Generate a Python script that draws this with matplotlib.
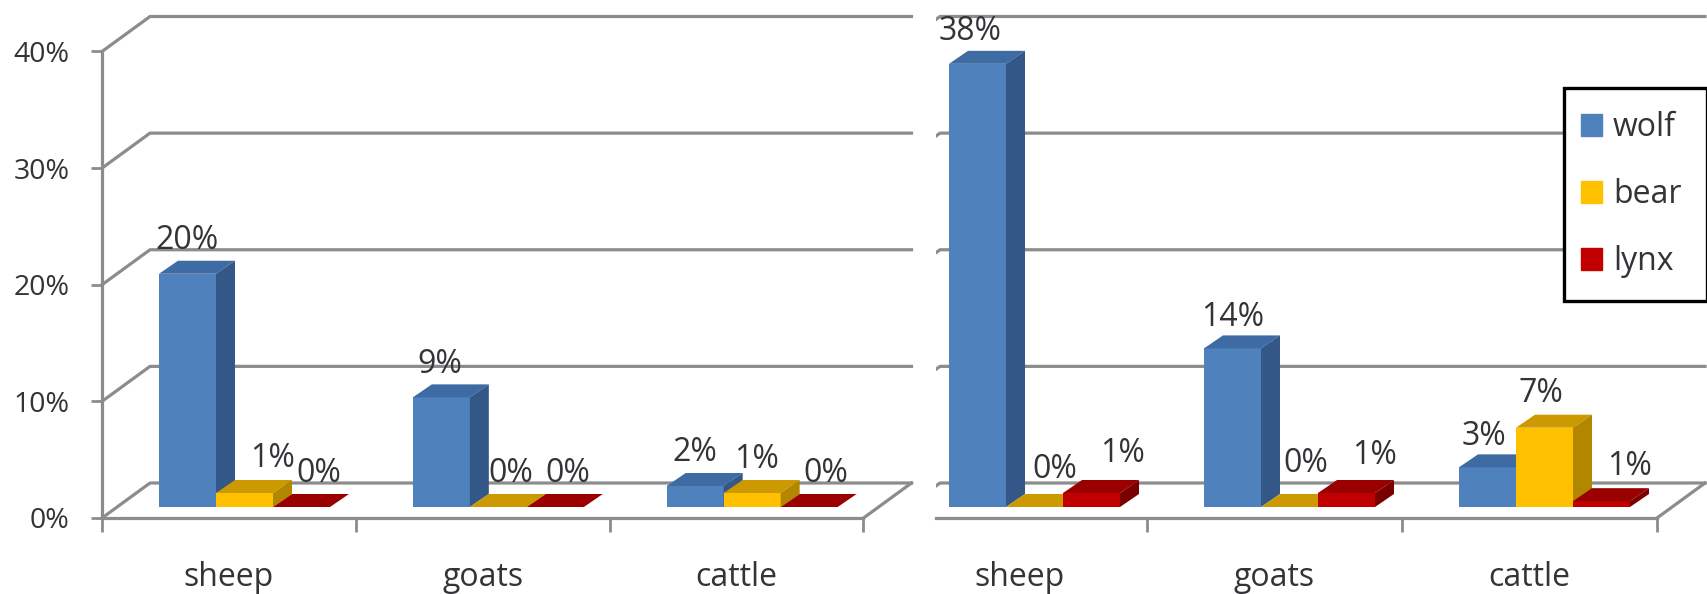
import numpy as np
import matplotlib
matplotlib.use('Agg')
import matplotlib.pyplot as plt
from matplotlib.patches import Patch, Rectangle

plt.rcParams['font.family'] = ['Open Sans', 'DejaVu Sans']

categories = ['sheep', 'goats', 'cattle']
series = ['wolf', 'bear', 'lynx']
y_ticks = [0, 10, 20, 30, 40]

left_wolf = [20, 9.4, 1.8]
left_bear = [1.2, 0, 1.2]
left_lynx = [0, 0, 0]
left_wolf_labels = ['20%', '9%', '2%']
left_bear_labels = ['1%', '0%', '1%']
left_lynx_labels = ['0%', '0%', '0%']

right_wolf = [38, 13.6, 3.4]
right_bear = [0, 0, 6.8]
right_lynx = [1.2, 1.2, 0.5]
right_wolf_labels = ['38%', '14%', '3%']
right_bear_labels = ['0%', '0%', '7%']
right_lynx_labels = ['1%', '1%', '1%']

# label shift from bar centre / bar top, in pixels
left_shift = [[(0, 33), (-2, 33), (0, 34)],
              [(28, 35), (12, 33), (4, 34)],
              [(17, 34), (12, 33), (17, 34)]]
right_shift = [[(-7, 32), (0, 31), (-4, 31)],
               [(20, 38), (16, 43), (-4, 34)],
               [(31, 40), (28, 38), (28, 35)]]

front = ['#4F81BD', '#FFC000', '#C00000']
top = ['#3E6BA3', '#CC9A00', '#9A0000']
side = ['#335887', '#B38600', '#7A0000']
grey = '#8C8C8C'
text_col = '#333338'

W, H = 1708, 594
fig = plt.figure(figsize=(W / 100, H / 100), dpi=100)
fig.patch.set_facecolor('white')


def panel(x0, x1, values, labels, shifts, cut=None):
    ax = fig.add_axes([x0 / W, 1 - 518 / H, (x1 - x0) / W, (518 - 51.5) / H])
    ax.patch.set_visible(False)
    ax.set_xlim(0, 3)
    ax.set_ylim(0, 40)
    px = (x1 - x0) / 3        # pixels per category
    py = 466.5 / 40           # pixels per percent
    depth_x, depth_y = 48 / px, 35 / py

    # floor and back wall lines
    for v in y_ticks:
        l, = ax.plot([0, depth_x, 3 + depth_x], [v, v + depth_y, v + depth_y],
                     color=grey, lw=2.3, clip_on=False, zorder=1)
        if cut is not None:
            l.set_clip_on(True)
            l.set_clip_path(Rectangle((cut / px, -10), 5, 60, transform=ax.transData))
    ax.plot([3, 3 + depth_x], [0, depth_y], color=grey, lw=2.3, clip_on=False, zorder=1)

    # bars, front face through ax.bar and the fake 3d faces on top
    w = 57 / px
    bar_dx, bar_dy = 19 / px, 13 / py
    base = 11 / py
    start = np.arange(3) + 57 / px
    for i in range(3):
        xs = start + i * w
        ax.bar(xs, values[i], w, bottom=base, align='edge', color=front[i],
               clip_on=False, zorder=3 + i)
        for j, x in enumerate(xs):
            y = base + values[i][j]
            ax.fill([x, x + w, x + w + bar_dx, x + bar_dx], [y, y, y + bar_dy, y + bar_dy],
                    color=top[i], lw=0, clip_on=False, zorder=3 + i)
            ax.fill([x + w, x + w, x + w + bar_dx, x + w + bar_dx],
                    [base, y, y + bar_dy, base + bar_dy],
                    color=side[i], lw=0, clip_on=False, zorder=3 + i)
            ax.annotate(labels[i][j], (x + w / 2, y), xycoords='data',
                        xytext=shifts[i][j], textcoords='offset pixels',
                        ha='center', va='center', fontsize=23, color=text_col, zorder=10)

    for s in ['top', 'right']:
        ax.spines[s].set_visible(False)
    ax.spines['bottom'].set_color(grey)
    ax.spines['bottom'].set_linewidth(2.3)
    ax.spines['left'].set_color(grey)
    ax.spines['left'].set_linewidth(2.3)

    ax.set_xticks(np.arange(3) + 0.5)
    ax.set_xticklabels(categories, fontsize=23, color=text_col)
    ax.set_xticks(np.arange(4), minor=True)
    ax.tick_params(axis='x', which='major', length=0, pad=31)
    ax.tick_params(axis='x', which='minor', length=10, width=2, color=grey, direction='out')
    return ax


ax1 = panel(102, 863.5, [left_wolf, left_bear, left_lynx],
            [left_wolf_labels, left_bear_labels, left_lynx_labels], left_shift)
ax1.set_yticks(y_ticks)
ax1.set_yticklabels(['%d%%' % v for v in y_ticks], fontsize=20.5, color=text_col)
ax1.tick_params(axis='y', length=8, width=2, color=grey, pad=15.5)

ax2 = panel(892, 1657, [right_wolf, right_bear, right_lynx],
            [right_wolf_labels, right_bear_labels, right_lynx_labels], right_shift, cut=44)
ax2.spines['left'].set_visible(False)
ax2.spines['bottom'].set_bounds(44 / 255, 3)
ax2.set_yticks([])
ax2.set_xticks(np.arange(1, 4), minor=True)

# legend box is a plain rectangle, the legend sits inside it without a frame
box = Rectangle((1564 / W, 1 - 301 / H), 143 / W, 213 / H, transform=fig.transFigure,
                facecolor='white', edgecolor='black', lw=2.4, zorder=19)
fig.add_artist(box)
handles = [Patch(color=c) for c in front]
leg = fig.legend(handles, series, loc='upper left', bbox_to_anchor=(1581 / W, 1 - 111 / H),
                 bbox_transform=fig.transFigure, fontsize=23, frameon=False, borderaxespad=0,
                 handlelength=0.66, handleheight=0.66, handletextpad=0.34,
                 labelspacing=1.07, borderpad=0, labelcolor=text_col)
leg.set_zorder(20)

fig.savefig('out.png', dpi=100)
